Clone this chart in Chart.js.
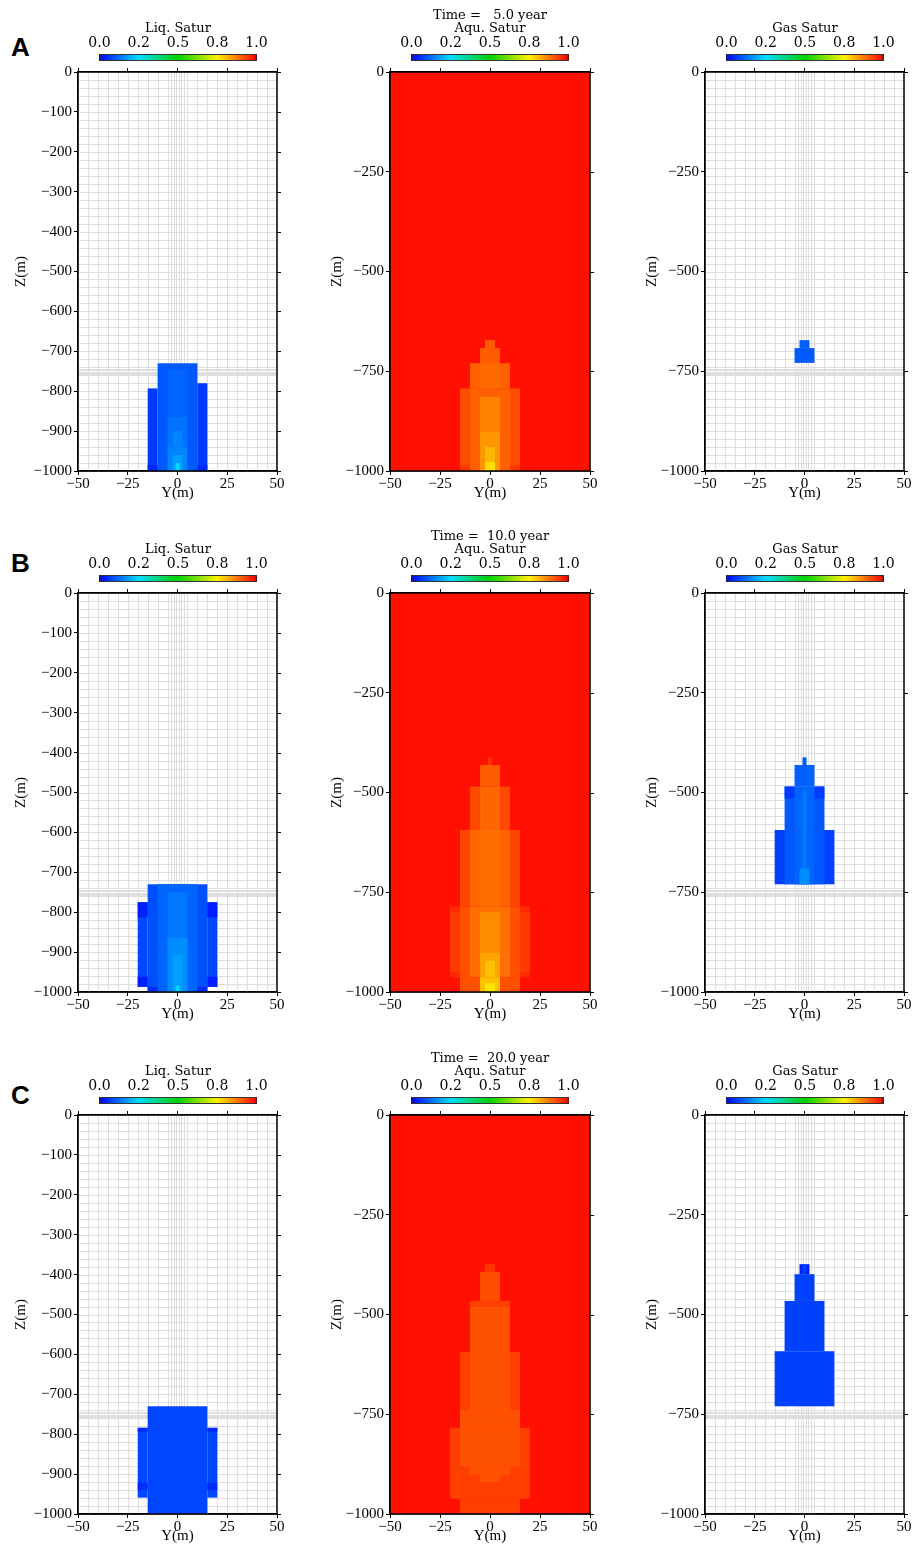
<!DOCTYPE html>
<html>
<head>
<meta charset="utf-8">
<script src="https://cdn.jsdelivr.net/npm/chart.js@4.4.1/dist/chart.umd.min.js"></script>
<style>
  body { margin: 0; background: #fff; width: 917px; height: 1548px; position: relative; overflow: hidden; }
  canvas { position: absolute; }
  .tag { position: absolute; font: bold 26px "Liberation Sans", Arial, sans-serif; color: #000; }
</style>
</head>
<body>
<div class="tag" style="left:11px;top:32px">A</div>
<div class="tag" style="left:11px;top:548px">B</div>
<div class="tag" style="left:11px;top:1080px">C</div>
<script>
// saturation fields, one list of blocks per panel: [yFrom, yTo, zTop, zBottom, saturation]
const liq05 = [
  [-10, 10, -730, -1000, 0.10],
  [-15, -10, -793, -1000, 0.065],
  [10, 15, -780, -1000, 0.065],
  [-5, 5, -745, -864, 0.115],
  [-5, 5, -864, -939, 0.13],
  [-2.5, 2.5, -900, -939, 0.15],
  [-5, 5, -939, -1000, 0.15],
  [-2.5, 2.5, -960, -1000, 0.18],
  [-1, 1, -980, -1000, 0.25],
  [-15, -10, -985, -1000, 0.045],
  [10, 15, -985, -1000, 0.045]
];
const aqu05 = [
  [-50, 50, 0, -1000, 0.983],
  [-2.5, 2.5, -672, -692, 0.905],
  [-5, 5, -692, -730, 0.905],
  [-10, 10, -730, -793, 0.90],
  [-5, 5, -730, -793, 0.89],
  [-15, 15, -793, -1000, 0.92],
  [-10, 10, -793, -1000, 0.90],
  [-5, 5, -814, -1000, 0.865],
  [-5, 5, -901, -1000, 0.845],
  [-2.5, 2.5, -940, -977, 0.81],
  [-2.5, 2.5, -977, -1000, 0.77],
  [-15, -10, -985, -1000, 0.94],
  [10, 15, -985, -1000, 0.94]
];
const gas05 = [
  [-2.5, 2.5, -672, -692, 0.11],
  [-5, 5, -692, -729, 0.10]
];
const liq10 = [
  [-15, 15, -730, -1000, 0.09],
  [-20, -15, -775, -987, 0.08],
  [15, 20, -775, -987, 0.08],
  [-20, -15, -775, -813, 0.035],
  [15, 20, -775, -813, 0.035],
  [-20, -15, -962, -987, 0.035],
  [15, 20, -962, -987, 0.035],
  [-10, 10, -730, -1000, 0.115],
  [-5, 5, -750, -1000, 0.135],
  [-5, 5, -865, -1000, 0.16],
  [-2.5, 2.5, -907, -1000, 0.18],
  [-1, 1, -985, -1000, 0.25],
  [-15, -10, -987, -1000, 0.05],
  [10, 15, -987, -1000, 0.05]
];
const aqu10 = [
  [-50, 50, 0, -1000, 0.983],
  [-1, 1, -412, -431, 0.945],
  [-5, 5, -431, -485, 0.905],
  [-10, 10, -485, -594, 0.925],
  [-5, 5, -485, -594, 0.895],
  [-15, 15, -594, -786, 0.927],
  [-10, 10, -594, -786, 0.896],
  [-5, 5, -594, -786, 0.885],
  [-20, 20, -786, -963, 0.94],
  [-15, 15, -786, -963, 0.917],
  [-10, 10, -786, -963, 0.885],
  [-5, 5, -800, -963, 0.855],
  [-5, 5, -902, -963, 0.83],
  [-2.5, 2.5, -922, -963, 0.80],
  [-15, 15, -963, -1000, 0.917],
  [-5, 5, -963, -1000, 0.80],
  [-2.5, 2.5, -978, -1000, 0.76],
  [-20, -15, -786, -800, 0.955],
  [15, 20, -786, -800, 0.955],
  [-20, -15, -950, -963, 0.955],
  [15, 20, -950, -963, 0.955]
];
const gas10 = [
  [-1, 1, -412, -431, 0.10],
  [-5, 5, -431, -485, 0.11],
  [-10, 10, -485, -594, 0.10],
  [-5, 5, -485, -594, 0.114],
  [-10, -5, -485, -515, 0.068],
  [5, 10, -485, -515, 0.068],
  [-15, 15, -594, -730, 0.073],
  [-10, 10, -594, -730, 0.10],
  [-5, 5, -594, -730, 0.114],
  [-1, 1, -495, -690, 0.136],
  [-2.5, 2.5, -690, -730, 0.16]
];
const liq20 = [
  [-15, 15, -730, -1000, 0.078],
  [-20, -15, -784, -959, 0.078],
  [15, 20, -784, -959, 0.078],
  [-20, -15, -784, -794, 0.05],
  [15, 20, -784, -794, 0.05],
  [-20, -15, -922, -940, 0.05],
  [15, 20, -922, -940, 0.05]
];
const aqu20 = [
  [-50, 50, 0, -1000, 0.983],
  [-2.5, 2.5, -374, -393, 0.945],
  [-5, 5, -393, -466, 0.92],
  [-10, 10, -466, -594, 0.935],
  [-10, 10, -481, -594, 0.915],
  [-15, 15, -594, -784, 0.935],
  [-10, 10, -594, -784, 0.915],
  [-15, 15, -739, -784, 0.915],
  [-20, 20, -784, -962, 0.935],
  [-15, 15, -784, -881, 0.915],
  [-10, 10, -881, -902, 0.915],
  [-5, 5, -902, -919, 0.915],
  [-15, 15, -962, -1000, 0.935]
];
const gas20 = [
  [-2.5, 2.5, -374, -399, 0.035],
  [-1, 1, -374, -399, 0.073],
  [-5, 5, -399, -466, 0.073],
  [-10, 10, -466, -592, 0.073],
  [-15, 15, -592, -730, 0.073]
];

const timeLabels = ['5.0', '10.0', '20.0'];
const fieldNames = ['Liq. Satur', 'Aqu. Satur', 'Gas Satur'];
const fields = [
  [liq05, aqu05, gas05],
  [liq10, aqu10, gas10],
  [liq20, aqu20, gas20]
];
const zTicksFine = [0, -100, -200, -300, -400, -500, -600, -700, -800, -900, -1000];
const zTicksCoarse = [0, -250, -500, -750, -1000];
const yTicks = [-50, -25, 0, 25, 50];
const cbarTicks = [0, 0.25, 0.5, 0.75, 1];
const cbarTickLabels = ['0.0', '0.2', '0.5', '0.8', '1.0'];

// numerical mesh (cell faces)
const meshY = [-50, -45, -40, -35, -30, -25, -20, -15, -10, -5, -3.5, -2, -0.7,
  0.7, 2, 3.5, 5, 10, 15, 20, 25, 30, 35, 40, 45, 50];
const meshZ = [];
for (let z = 0; z >= -1000; z -= 20) meshZ.push(z);
[-745, -748, -751, -754, -757].forEach(z => meshZ.push(z));

// jet-like colour scale
const cmapPos = [0, 0.25, 0.5, 0.75, 1];
const cmapRGB = [[0, 0, 255], [0, 220, 255], [0, 210, 0], [255, 240, 0], [255, 0, 0]];

function satColor(s) {
  s = Math.min(1, Math.max(0, s));
  let i = 0;
  while (i < cmapPos.length - 2 && s > cmapPos[i + 1]) i++;
  const t = (s - cmapPos[i]) / (cmapPos[i + 1] - cmapPos[i]);
  const a = cmapRGB[i], b = cmapRGB[i + 1];
  const c = a.map((v, k) => Math.round(v + (b[k] - v) * t));
  return 'rgb(' + c.join(',') + ')';
}

const fmt = v => (v < 0 ? '\u2212' + (-v) : String(v));

Chart.defaults.font.family = '"Liberation Serif", "Times New Roman", serif';
Chart.defaults.font.size = 15;
Chart.defaults.color = '#000';
const barFont = '"DejaVu Serif", "Liberation Serif", serif';

const plotLeft = [78, 390, 705];
const plotW = [199, 200, 199];
const plotTop = [72, 593, 1115];
const plotH = 399;
const rowShift = [0, 521, 1043];

function makeCanvas(left, top, w, h) {
  const c = document.createElement('canvas');
  c.width = w; c.height = h;
  c.style.left = left + 'px'; c.style.top = top + 'px';
  c.style.width = w + 'px'; c.style.height = h + 'px';
  document.body.appendChild(c);
  return c;
}

// mesh lines first, then the saturation blocks; frame and right-hand ticks last
function cellLayer(cells, zTicks) {
  return {
    id: 'cellLayer',
    beforeDatasetsDraw(chart) {
      const { ctx, chartArea: a, scales: { x, y } } = chart;
      ctx.save();
      ctx.beginPath();
      ctx.rect(a.left, a.top, a.right - a.left, a.bottom - a.top);
      ctx.clip();
      ctx.strokeStyle = '#dedede';
      ctx.lineWidth = 1;
      ctx.beginPath();
      meshY.forEach(v => {
        const px = Math.round(x.getPixelForValue(v)) + 0.5;
        ctx.moveTo(px, a.top); ctx.lineTo(px, a.bottom);
      });
      meshZ.forEach(v => {
        const py = Math.round(y.getPixelForValue(v)) + 0.5;
        ctx.moveTo(a.left, py); ctx.lineTo(a.right, py);
      });
      ctx.stroke();
      cells.forEach(([y0, y1, z0, z1, s]) => {
        const l = x.getPixelForValue(y0), r = x.getPixelForValue(y1);
        const t = y.getPixelForValue(z0), b = y.getPixelForValue(z1);
        ctx.fillStyle = satColor(s);
        ctx.fillRect(l, t, r - l, b - t);
      });
      ctx.restore();
    },
    afterDraw(chart) {
      const { ctx, chartArea: a, scales: { y } } = chart;
      ctx.save();
      ctx.strokeStyle = '#000';
      ctx.lineWidth = 1.5;
      ctx.strokeRect(a.left, a.top, a.right - a.left, a.bottom - a.top);
      ctx.lineWidth = 1;
      ctx.beginPath();
      zTicks.forEach(v => {
        const py = Math.round(y.getPixelForValue(v)) + 0.5;
        ctx.moveTo(a.right, py); ctx.lineTo(a.right + 4, py);
      });
      ctx.stroke();
      ctx.restore();
    }
  };
}

const gradientBar = {
  id: 'gradientBar',
  beforeDatasetsDraw(chart) {
    const { ctx, chartArea: a, scales: { x } } = chart;
    const g = ctx.createLinearGradient(a.left, 0, a.right, 0);
    for (let i = 0; i <= 40; i++) {
      const s = i / 40;
      g.addColorStop((x.getPixelForValue(s) - a.left) / (a.right - a.left), satColor(s));
    }
    ctx.save();
    ctx.fillStyle = g;
    ctx.fillRect(a.left, a.top, a.right - a.left, a.bottom - a.top);
    ctx.restore();
  },
  afterDraw(chart) {
    const { ctx, chartArea: a } = chart;
    ctx.save();
    ctx.strokeStyle = '#333';
    ctx.lineWidth = 1;
    ctx.strokeRect(a.left + 0.5, a.top + 0.5, a.right - a.left - 1, a.bottom - a.top - 1);
    ctx.restore();
  }
};

const frameGrid = { drawOnChartArea: false, tickLength: 4, color: '#000', lineWidth: 1 };
const frameBorder = { color: '#000', width: 1.5 };

function drawPanel(r, c) {
  const L = plotLeft[c], T = plotTop[r], W = plotW[c];
  const canvas = makeCanvas(L - 70, T - 12, W + 84, plotH + 54);
  const zTicks = c === 0 ? zTicksFine : zTicksCoarse;
  const setZ = s => { s.ticks = zTicks.map(v => ({ value: v })); };
  const setY = s => { s.ticks = yTicks.map(v => ({ value: v })); };
  new Chart(canvas, {
    type: 'scatter',
    data: { datasets: [] },
    options: {
      responsive: false,
      animation: false,
      devicePixelRatio: 1,
      events: [],
      layout: { padding: { left: 0, top: 0, bottom: 0, right: 14 } },
      plugins: { legend: { display: false }, tooltip: { enabled: false }, title: { display: false } },
      scales: {
        x: {
          type: 'linear', position: 'bottom', min: -50, max: 50,
          afterBuildTicks: setY,
          ticks: { padding: 0, maxRotation: 0, autoSkip: false, callback: v => fmt(v) },
          grid: frameGrid, border: frameBorder,
          title: { display: true, text: 'Y(m)', padding: { top: 0, bottom: 11 } },
          afterFit: s => { s.height = 42; }
        },
        xTop: {
          type: 'linear', position: 'top', min: -50, max: 50,
          afterBuildTicks: setY,
          ticks: { display: false },
          grid: frameGrid, border: frameBorder,
          afterFit: s => { s.height = 12; }
        },
        y: {
          type: 'linear', position: 'left', min: -1000, max: 0,
          afterBuildTicks: setZ,
          ticks: { padding: 2, autoSkip: false, callback: v => fmt(v) },
          grid: frameGrid, border: frameBorder,
          title: { display: true, text: 'Z(m)', padding: { top: c === 0 ? 4 : 8, bottom: 0 } },
          afterFit: s => { s.width = 70; }
        }
      }
    },
    plugins: [cellLayer(fields[r][c], zTicks)]
  });
}

function drawColorbar(r, c) {
  const cx = plotLeft[c] + plotW[c] / 2;
  const canvas = makeCanvas(Math.round(cx - 110), rowShift[r], 220, 64);
  const lines = c === 1
    ? ['Time = ' + timeLabels[r].padStart(5, ' ') + ' year', fieldNames[c]]
    : [fieldNames[c]];
  new Chart(canvas, {
    type: 'scatter',
    data: { datasets: [] },
    options: {
      responsive: false,
      animation: false,
      devicePixelRatio: 1,
      events: [],
      layout: { padding: { left: 31.5, right: 31.5, top: 0, bottom: 3 } },
      plugins: {
        legend: { display: false },
        tooltip: { enabled: false },
        title: {
          display: true,
          text: lines,
          color: '#000',
          font: { family: barFont, size: 13, weight: 'normal', lineHeight: '13px' },
          padding: { top: lines.length === 2 ? 9 : 22, bottom: 0 }
        }
      },
      scales: {
        x: {
          type: 'linear', position: 'top', min: 0, max: 1, z: 1,
          afterBuildTicks: s => { s.ticks = cbarTicks.map(v => ({ value: v })); },
          ticks: {
            padding: 2, maxRotation: 0, autoSkip: false,
            font: { family: barFont, size: 14 },
            callback: (v, i) => cbarTickLabels[i]
          },
          grid: { drawTicks: false, color: '#000', lineWidth: 1 },
          border: { display: false },
          afterFit: s => { s.height = 19; }
        },
        y: { display: false, min: 0, max: 1 }
      }
    },
    plugins: [gradientBar]
  });
}

for (let r = 0; r < 3; r++) {
  for (let c = 0; c < 3; c++) {
    drawPanel(r, c);
    drawColorbar(r, c);
  }
}
</script>
</body>
</html>
